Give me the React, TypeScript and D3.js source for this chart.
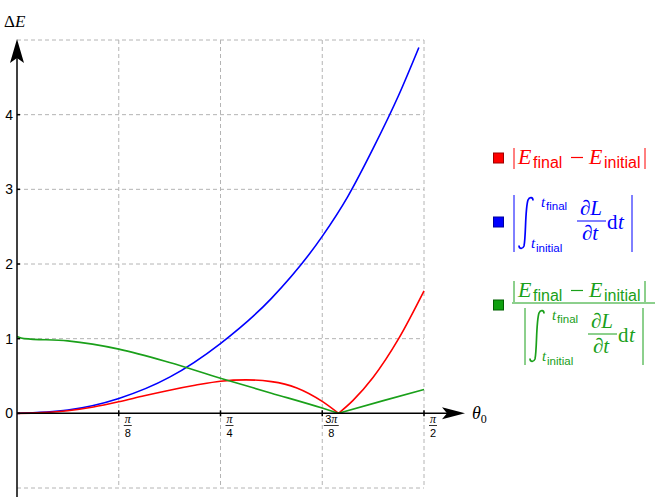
import * as d3 from "d3";

// theta values in radians
const thetaBlue = [0, 0.196, 0.393, 0.589, 0.785, 0.982, 1.178, 1.276, 1.374, 1.473, 1.551];
const blueValues = [0, 0.045, 0.2, 0.485, 0.935, 1.54, 2.37, 2.9, 3.545, 4.26, 4.9];

const thetaRed = [0, 0.098, 0.196, 0.295, 0.393, 0.491, 0.589, 0.687, 0.785, 0.884, 0.982, 1.08, 1.178, 1.241, 1.296, 1.374, 1.473, 1.571];
const redValues = [0, 0.01, 0.035, 0.085, 0.155, 0.235, 0.31, 0.375, 0.43, 0.448, 0.425, 0.34, 0.16, 0, 0.17, 0.48, 1.0, 1.64];

const thetaGreen = [0, 0.027, 0.196, 0.393, 0.589, 0.785, 0.982, 1.178, 1.241, 1.414, 1.571];
const greenValues = [1.03, 1.0, 0.97, 0.86, 0.68, 0.47, 0.27, 0.07, 0, 0.17, 0.32];

// where |E_final - E_initial| touches zero (sharp corner)
const cuspTheta = 1.241;

const xTicks = [Math.PI / 8, Math.PI / 4, (3 * Math.PI) / 8, Math.PI / 2];
const xTickCoef = ["", "", "3", ""];
const xTickDen = ["8", "4", "8", "2"];
const yTicks = [0, 1, 2, 3, 4];
const yGrid = [-1, 1, 2, 3, 4, 5];

const RED = "#ff0000";
const BLUE = "#0000ff";
const GREEN = "#1aa01a";

const serif = "'Liberation Serif', 'DejaVu Serif', serif";
const sans = "'Liberation Sans', 'DejaVu Sans', sans-serif";

const x = d3.scaleLinear().domain([0, Math.PI / 2]).range([17, 424]);
const y = d3.scaleLinear().domain([-1, 5]).range([488, 40]);

type Pt = [number, number];

const line = d3
  .line<Pt>()
  .x((d) => x(d[0]))
  .y((d) => y(d[1]))
  .curve(d3.curveMonotoneX);

function segments(th: number[], vals: number[]): string[] {
  const pts: Pt[] = th.map((t, i) => [t, vals[i]]);
  const a = pts.filter((p) => p[0] <= cuspTheta + 1e-9);
  const b = pts.filter((p) => p[0] >= cuspTheta - 1e-9);
  return [line(a) || "", line(b) || ""];
}

function integralPath(x0: number, x1: number, yt: number, yb: number) {
  return `M${x0},${yb - 3.5} C${x0},${yb} ${x0 + 3.5},${yb + 0.5} ${x0 + 5},${yb - 3} ` +
    `C${x0 + 7},${yb - 12} ${x1 - 8},${yt + 12} ${x1 - 5},${yt + 3} ` +
    `C${x1 - 3.5},${yt - 0.5} ${x1},${yt} ${x1},${yt + 3.5}`;
}

// |E_final - E_initial|, laid out for the red legend row
function AbsDiff({ color, dx, dy }: { color: string; dx: number; dy: number }) {
  return (
    <g transform={`translate(${dx},${dy})`} fill={color}>
      <line x1={514} x2={514} y1={148} y2={169} stroke={color} strokeWidth={1} />
      <text x={518} y={164} fontFamily={serif} fontStyle="italic" fontSize={22}>E</text>
      <text x={533} y={168} fontFamily={sans} fontSize={16}>final</text>
      <line x1={571} x2={583} y1={157.5} y2={157.5} stroke={color} strokeWidth={1.2} />
      <text x={589} y={164} fontFamily={serif} fontStyle="italic" fontSize={22}>E</text>
      <text x={604} y={168} fontFamily={sans} fontSize={16}>initial</text>
      <line x1={645} x2={645} y1={148} y2={169} stroke={color} strokeWidth={1} />
    </g>
  );
}

// |∫ ∂L/∂t dt|, laid out for the blue legend row
function AbsIntegral({ color, dx, dy }: { color: string; dx: number; dy: number }) {
  return (
    <g transform={`translate(${dx},${dy})`} fill={color}>
      <line x1={514} x2={514} y1={195} y2={252} stroke={color} strokeWidth={1} />
      <path d={integralPath(519, 533, 197, 249)} fill="none" stroke={color} strokeWidth={1.7} />
      <text x={541} y={207} fontFamily={serif} fontStyle="italic" fontSize={15}>t</text>
      <text x={546} y={210} fontFamily={sans} fontSize={11.5}>final</text>
      <text x={531} y={248} fontFamily={serif} fontStyle="italic" fontSize={15}>t</text>
      <text x={536} y={252} fontFamily={sans} fontSize={11.5}>initial</text>
      <text x={591} y={215} textAnchor="middle" fontFamily={serif} fontStyle="italic" fontSize={21}>∂L</text>
      <line x1={577} x2={606} y1={221} y2={221} stroke={color} strokeWidth={1} />
      <text x={590} y={240} textAnchor="middle" fontFamily={serif} fontStyle="italic" fontSize={21}>∂t</text>
      <text x={607} y={229} fontFamily={serif} fontSize={21}>d</text>
      <text x={618} y={229} fontFamily={serif} fontStyle="italic" fontSize={21}>t</text>
      <line x1={632} x2={632} y1={195} y2={252} stroke={color} strokeWidth={1} />
    </g>
  );
}

export default function App() {
  const [redA, redB] = segments(thetaRed, redValues);
  const [greenA, greenB] = segments(thetaGreen, greenValues);
  const bluePath = line(thetaBlue.map((t, i) => [t, blueValues[i]] as Pt)) || "";
  const x0 = x(0);
  const y0 = y(0);

  return (
    <svg
      width={665}
      height={497}
      viewBox="0 0 665 497"
      style={{ position: "fixed", left: 0, top: 0, background: "#fff" }}
    >
      {/* grid */}
      <g stroke="#b4b4b4" strokeWidth={1} strokeDasharray="4,3">
        {yGrid.map((v) => (
          <line key={"h" + v} x1={x0} x2={x(Math.PI / 2)} y1={y(v)} y2={y(v)} />
        ))}
        {xTicks.map((v) => (
          <line key={"v" + v} x1={x(v)} x2={x(v)} y1={y(5)} y2={y(-1)} />
        ))}
      </g>

      {/* curves */}
      <g fill="none" strokeWidth={1.6}>
        <path d={bluePath} stroke={BLUE} />
        <path d={redA} stroke={RED} />
        <path d={redB} stroke={RED} />
        <path d={greenA} stroke={GREEN} />
        <path d={greenB} stroke={GREEN} />
      </g>

      {/* axes */}
      <g stroke="#000" strokeWidth={1.5}>
        <line x1={x0} x2={x0} y1={497} y2={52} />
        <line x1={x0} x2={455} y1={y0} y2={y0} />
        {xTicks.map((v) => (
          <line key={v} x1={x(v)} x2={x(v)} y1={y0 - 3} y2={y0 + 3} />
        ))}
        {yTicks.map((v) => (
          <line key={v} x1={x0} x2={x0 + 3} y1={y(v)} y2={y(v)} />
        ))}
      </g>
      <path d={`M${x0},39 L${x0 - 7},63 L${x0},58 L${x0 + 7},63 Z`} fill="#000" />
      <path d={`M465,${y0} L442,${y0 - 6} L447,${y0} L442,${y0 + 6} Z`} fill="#000" />

      {/* y tick labels */}
      {yTicks.map((v) => (
        <text key={v} x={13} y={y(v) + 5} textAnchor="end" fontFamily={sans} fontSize={14}>
          {v}
        </text>
      ))}

      {/* x tick labels as fractions */}
      {xTicks.map((v, i) => {
        const cx = x(v) + 9;
        const half = xTickCoef[i] ? 7.5 : 4;
        return (
          <g key={v}>
            <text x={cx} y={423} textAnchor="middle" fontSize={12}>
              <tspan fontFamily={sans} fontSize={11}>{xTickCoef[i]}</tspan>
              <tspan fontFamily={serif} fontStyle="italic">π</tspan>
            </text>
            <line x1={cx - half} x2={cx + half} y1={425.5} y2={425.5} stroke="#000" strokeWidth={0.8} />
            <text x={cx} y={437} textAnchor="middle" fontFamily={sans} fontSize={11}>
              {xTickDen[i]}
            </text>
          </g>
        );
      })}

      {/* axis labels */}
      <text x={4} y={27} fontFamily={serif} fontSize={17}>
        <tspan>Δ</tspan>
        <tspan fontStyle="italic">E</tspan>
      </text>
      <text x={472} y={419} fontFamily={serif} fontSize={18}>
        <tspan fontStyle="italic">θ</tspan>
        <tspan fontSize={12} dy={4}>0</tspan>
      </text>

      {/* legend */}
      <rect x={493.5} y={153} width={10} height={10} fill={RED} stroke="#a00000" strokeWidth={1} />
      <AbsDiff color={RED} dx={0} dy={0} />

      <rect x={493.5} y={217} width={10} height={10} fill={BLUE} stroke="#0000a0" strokeWidth={1} />
      <AbsIntegral color={BLUE} dx={0} dy={0} />

      <rect x={493.5} y={300} width={10} height={10} fill="#10a010" stroke="#006000" strokeWidth={1} />
      <AbsDiff color={GREEN} dx={0} dy={133} />
      <line x1={512} x2={655} y1={303} y2={303} stroke={GREEN} strokeWidth={1} />
      <AbsIntegral color={GREEN} dx={11} dy={113} />
    </svg>
  );
}
